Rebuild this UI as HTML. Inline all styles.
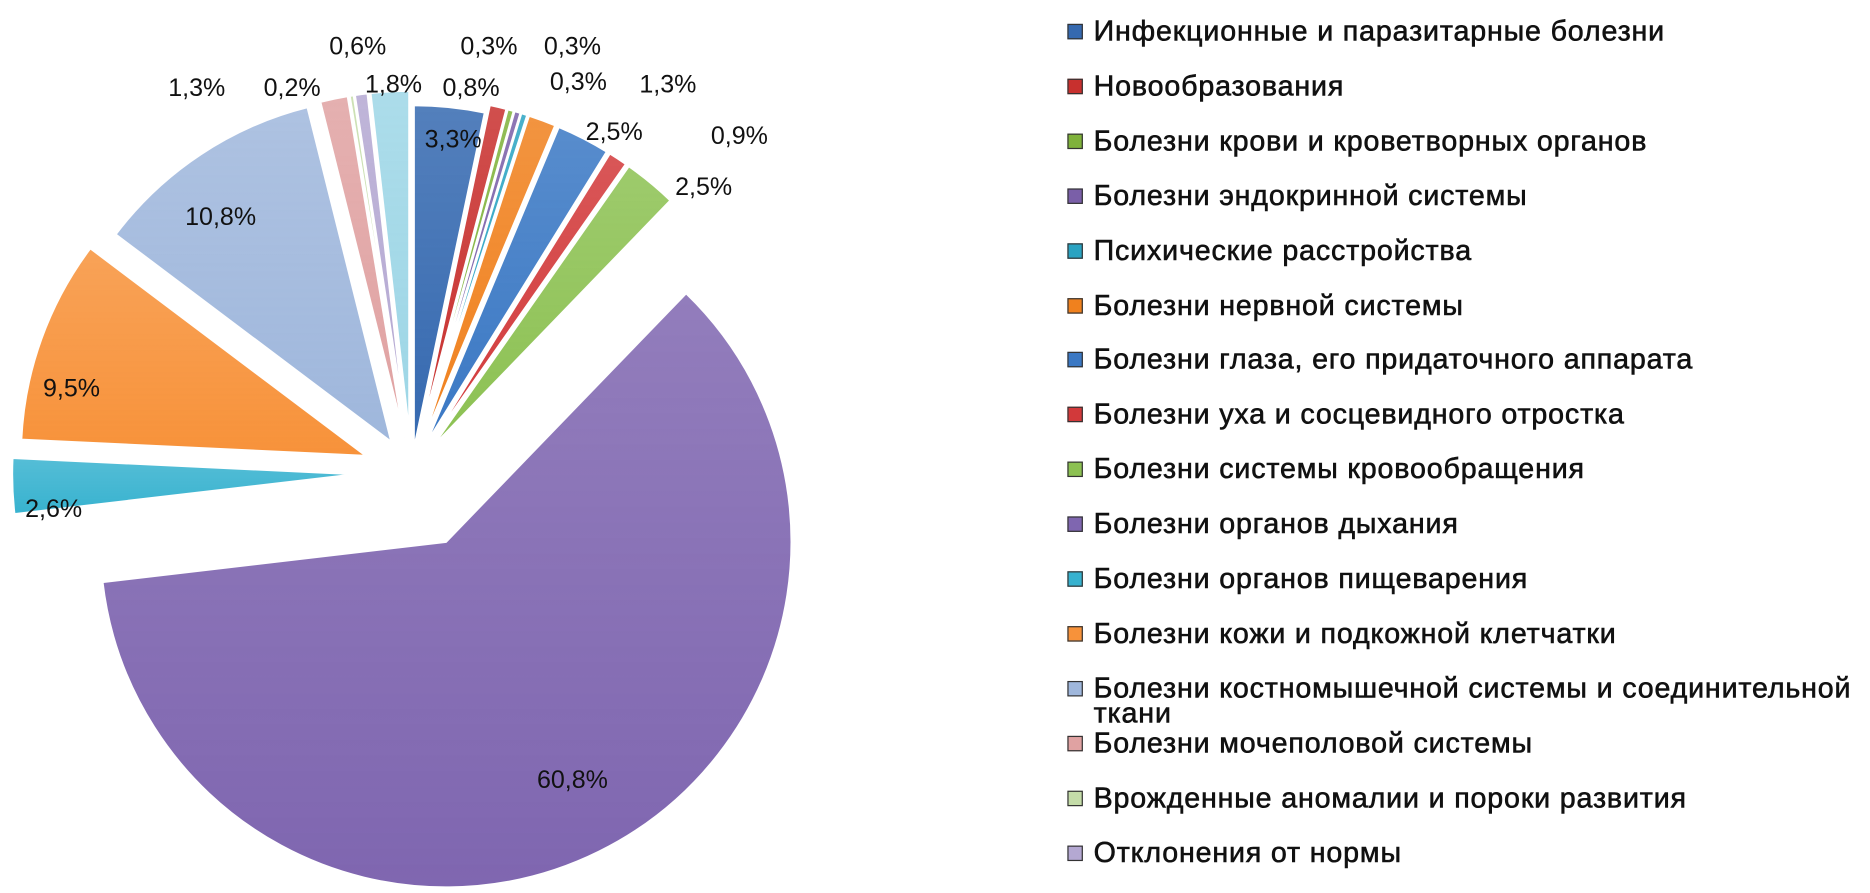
<!DOCTYPE html>
<html><head><meta charset="utf-8">
<style>
body{margin:0;background:#fff;width:1870px;height:893px;overflow:hidden;font-family:"Liberation Sans","DejaVu Sans",sans-serif}
#root{position:absolute;left:0;top:0;width:1568px;height:749px;transform:scale(1.1926);transform-origin:0 0}
#legend{position:absolute;left:890px;top:0;width:680px}
.le{position:absolute;left:0;font-size:24px;letter-spacing:0.7px;color:#111;line-height:21px;white-space:nowrap;-webkit-text-stroke:0.5px #111}
.mk{position:absolute;left:5px;top:4px;width:13px;height:13px;border:1px solid #333;box-sizing:border-box}
.tx{position:absolute;left:27px;top:0}
</style></head><body>
<div id="root">
<svg id="chart" width="880" height="749" style="position:absolute;left:0;top:0"><defs></defs></svg>
<div id="legend"></div>
</div>
<script>
const categories=["Инфекционные и паразитарные болезни","Новообразования","Болезни крови и кроветворных органов","Болезни эндокринной системы","Психические расстройства","Болезни нервной системы","Болезни глаза, его придаточного аппарата","Болезни уха и сосцевидного отростка","Болезни системы кровообращения","Болезни органов дыхания","Болезни органов пищеварения","Болезни кожи и подкожной клетчатки","Болезни костномышечной системы и соединительной ткани","Болезни мочеполовой системы","Врожденные аномалии и пороки развития","Отклонения от нормы","Прочие"];
const values=[3.3,0.8,0.3,0.3,0.3,1.3,2.5,0.9,2.5,60.8,2.6,9.5,10.8,1.3,0.2,0.6,1.8];
const valueLabels=["3,3%","0,8%","0,3%","0,3%","0,3%","1,3%","2,5%","0,9%","2,5%","60,8%","2,6%","9,5%","10,8%","1,3%","0,2%","0,6%","1,8%"];
const colors=["#3569b0","#c8302e","#7fb23a","#7a5fa8","#2aa3c2","#f0811e","#3a78c4","#d2393a","#8cc152","#7f66b0","#37b2cf","#f7923a","#9fb7dc","#e0a2a2","#c4dca8","#b4a8d2","#9dd6e6"];
const explode=[18,25,25,25,25,25,25,25,25,65,45,40,30,30,30,30,30];
const labelXY=[[380,118],[395,75],[410,40],[480,40],[485,70],[560,72],[515,112],[620,115],[590,158],[480,655],[45,428],[60,327],[185,183],[165,75],[245,75],[300,40],[330,72]];
const NS="http://www.w3.org/2000/svg";
const svg=document.getElementById('chart');const defs=svg.querySelector('defs');
const cx=345,cy=396,R=290;
const total=values.reduce((a,b)=>a+b,0);
function pt(a,r,ox,oy){return [ox+r*Math.sin(a),oy-r*Math.cos(a)];}
let acc=0;
values.forEach((v,i)=>{
 const a0=acc/total*2*Math.PI;acc+=v;const a1=acc/total*2*Math.PI;const am=(a0+a1)/2;
 const ox=cx+explode[i]*Math.sin(am),oy=cy-explode[i]*Math.cos(am);
 const p0=pt(a0,R,ox,oy),p1=pt(a1,R,ox,oy);
 const g=document.createElementNS(NS,'linearGradient');g.id='g'+i;g.setAttribute('x1','0');g.setAttribute('y1','0');g.setAttribute('x2','0');g.setAttribute('y2','1');
 g.innerHTML='<stop offset="0" stop-color="'+colors[i]+'" stop-opacity="0.85"/><stop offset="1" stop-color="'+colors[i]+'"/>';defs.appendChild(g);
 const p=document.createElementNS(NS,'path');
 p.setAttribute('d',`M${ox},${oy}L${p0[0]},${p0[1]}A${R},${R} 0 ${a1-a0>Math.PI?1:0} 1 ${p1[0]},${p1[1]}Z`);
 p.setAttribute('fill','url(#g'+i+')');p.setAttribute('stroke','#fff');p.setAttribute('stroke-width','2');
 
 
 svg.appendChild(p);
 const t=document.createElementNS(NS,'text');
 t.setAttribute('x',labelXY[i][0]);t.setAttribute('y',labelXY[i][1]);
 t.setAttribute('font-size','21');t.setAttribute('fill','#111');t.setAttribute('text-anchor','middle');t.setAttribute('dominant-baseline','middle');
 t.textContent=valueLabels[i];
 
 
 svg.appendChild(t);
});
const lg=document.getElementById('legend');
for(let i=0;i<16;i++){
 const d=document.createElement('div');d.className='le';d.style.top=(16+i*45.9)+'px';
 
 
 d.innerHTML='<span class="mk" style="background:'+colors[i]+'"></span><span class="tx">'+(i==12?'Болезни костномышечной системы и соединительной<br>ткани':categories[i])+'</span>';
 lg.appendChild(d);
}
</script>
</body></html>
